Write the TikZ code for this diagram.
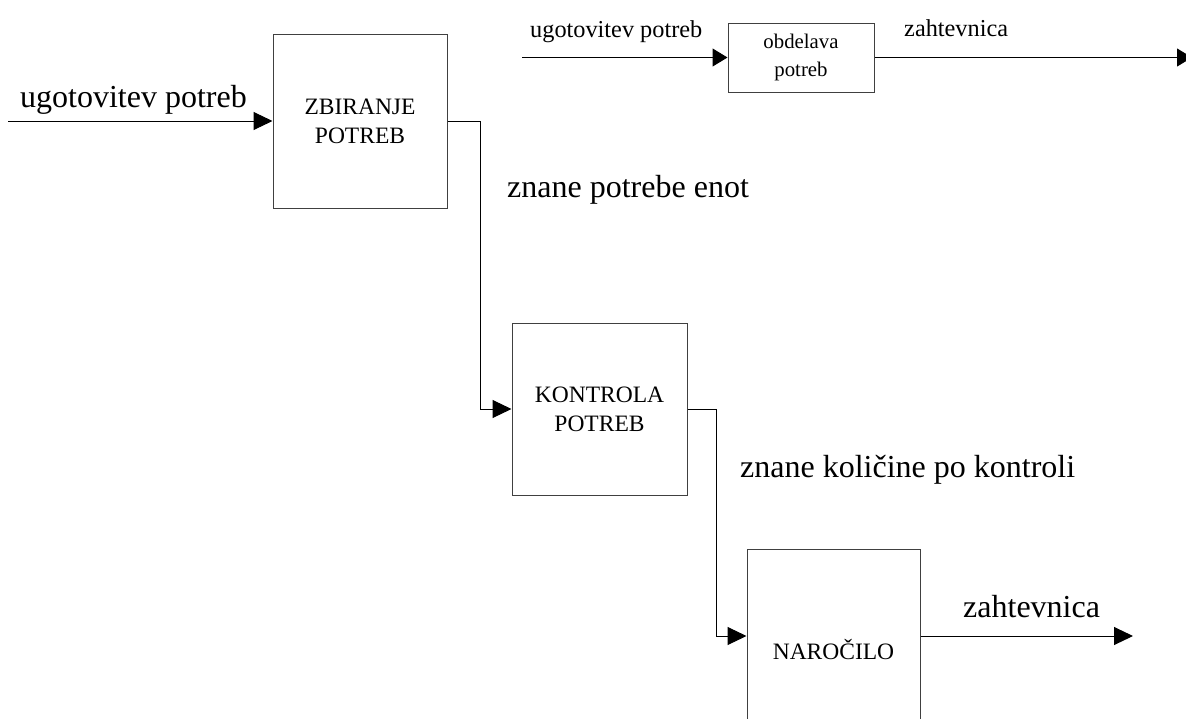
\documentclass[tikz,border=0pt]{standalone}
\usepackage{fontspec}
\setmainfont{Liberation Serif}
\usetikzlibrary{positioning, arrows.meta}
\tikzstyle{block} = [rectangle, minimum width=174pt, minimum height=174pt, inner sep=0pt, text centered, align=center, draw=black!75, line width=1pt, fill=white, font=\fontsize{23.5}{29}\selectfont]
\tikzstyle{smallblock} = [rectangle, minimum width=146pt, minimum height=69pt, inner sep=0pt, text centered, align=center, draw=black!75, line width=1pt, fill=white, font=\fontsize{20.8}{28}\selectfont]
\tikzstyle{lbl} = [anchor=base west, inner sep=0pt, font=\fontsize{32}{38}\selectfont]
\tikzstyle{smalllbl} = [anchor=base west, inner sep=0pt, font=\fontsize{24.3}{29}\selectfont]
\tikzstyle{arrow} = [line width=1pt, -{Triangle[length=19pt, width=18pt]}]
\tikzstyle{smallarrow} = [line width=1pt, -{Triangle[length=15pt, width=18pt]}]
\tikzstyle{line} = [line width=1pt]

\begin{document}
\begin{tikzpicture}[x=1pt, y=-1pt]
			\clip (0,0) rectangle (1186,718);
			\fill[white] (0,0) rectangle (1186,718);

			\node (zbir) [block] at (360,121) {ZBIRANJE\\POTREB};
			\node (kontr) [block, minimum width=175pt, minimum height=172pt] at (599.5,409) {KONTROLA\\POTREB};
			\node (naroc) [block, minimum width=173pt, minimum height=202pt] at (833.5,650) {NARO\v{C}ILO};
			\node (obdel) [smallblock] at (801,57.5) {obdelava\\potreb};

			\coordinate (in1) at (8,121);
			\coordinate (b1) at (480,121);
			\coordinate (b2) at (716,409);
			\coordinate (out1) at (1133,636);
			\coordinate (in2) at (522,57.5);
			\coordinate (out2) at (1192,57.5);

			\node (ugot) [lbl] at (20,107) {ugotovitev potreb};
			\node (znpot) [lbl] at (507,197) {znane potrebe enot};
			\node (znkol) [lbl] at (740,477) {znane koli\v{c}ine po kontroli};
			\node (zaht) [lbl] at (963,617) {zahtevnica};
			\node (ugot2) [smalllbl] at (530,37) {ugotovitev potreb};
			\node (zaht2) [smalllbl] at (904,36) {zahtevnica};

			%arrows
			\draw [arrow] (in1) -- (zbir.west);
			\draw [arrow] (zbir.east) -- (b1) |- (kontr.west);
			\draw [arrow] (kontr.east) -- (b2) |- ([yshift=14pt]naroc.west);
			\draw [arrow] ([yshift=14pt]naroc.east) -- (out1);
			\draw [smallarrow] (in2) -- (obdel.west);
			\draw [smallarrow] (obdel.east) -- (out2);

		\end{tikzpicture}
\end{document}
